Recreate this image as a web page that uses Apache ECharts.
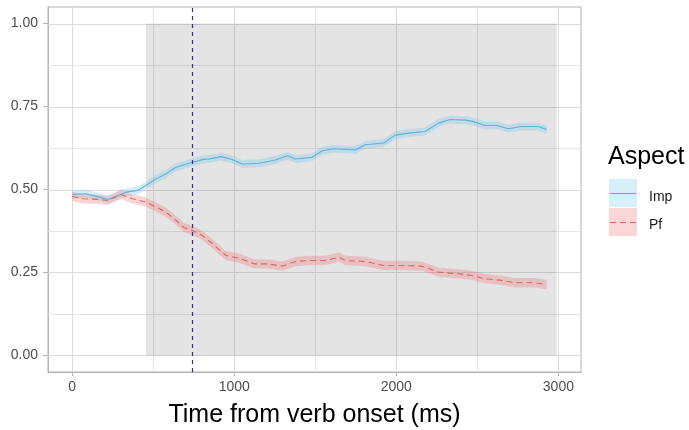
<!DOCTYPE html>
<html>
<head>
<meta charset="utf-8">
<script src="https://cdn.jsdelivr.net/npm/echarts@6/dist/echarts.min.js"></script>
<style>
html,body{margin:0;padding:0;background:#fff;}
#chart{width:689px;height:430px;}
</style>
</head>
<body>
<div id="chart"></div>
<script>
// ---- data ----
var impTime = [0, 86, 168, 220, 271, 332, 404, 455, 517, 578, 640, 722, 804, 845, 917, 978, 1050, 1153, 1255, 1327, 1378, 1481, 1543, 1604, 1645, 1748, 1809, 1922, 1994, 2076, 2178, 2260, 2332, 2425, 2466, 2548, 2620, 2691, 2773, 2876, 2927];
var impValue = [0.485, 0.487, 0.477, 0.470, 0.479, 0.492, 0.497, 0.512, 0.532, 0.547, 0.567, 0.579, 0.590, 0.592, 0.599, 0.592, 0.577, 0.579, 0.589, 0.602, 0.592, 0.597, 0.617, 0.622, 0.622, 0.619, 0.635, 0.640, 0.664, 0.670, 0.675, 0.700, 0.711, 0.709, 0.706, 0.693, 0.693, 0.683, 0.690, 0.690, 0.681];
var pfTime = [0, 66, 168, 220, 302, 373, 455, 517, 578, 640, 691, 742, 804, 855, 948, 1030, 1122, 1204, 1297, 1378, 1460, 1563, 1645, 1686, 1809, 1922, 2035, 2158, 2260, 2383, 2466, 2548, 2650, 2732, 2855, 2927];
var pfValue = [0.479, 0.472, 0.470, 0.467, 0.485, 0.472, 0.462, 0.447, 0.432, 0.407, 0.385, 0.377, 0.361, 0.341, 0.301, 0.293, 0.276, 0.276, 0.269, 0.283, 0.286, 0.286, 0.296, 0.286, 0.283, 0.271, 0.271, 0.269, 0.251, 0.246, 0.241, 0.231, 0.226, 0.219, 0.219, 0.213];
var impHalfBand = 0.012;
var pfHalfBand = 0.014;
var windowStart = 455, windowEnd = 2990;   // shaded analysis window (ms)
var windowLow = 0, windowHigh = 1;
var verbMarker = 738;                       // dashed vertical line (ms)
var xTicks = [0, 1000, 2000, 3000];
var xMinor = [500, 1500, 2500];
var yTicks = [0, 0.25, 0.5, 0.75, 1];
var yMinor = [0.125, 0.375, 0.625, 0.875];
var seriesNames = ['Imp', 'Pf'];
var legendTitle = 'Aspect';
var xTitle = 'Time from verb onset (ms)';

// ---- styles ----
var FONT = "'Liberation Sans', Arial, sans-serif";
var impLine = '#5fb2da', impFill = 'rgba(120,200,235,0.32)', impKey = '#d6eff9';
var pfLine = '#df6464', pfFill = 'rgba(240,120,120,0.32)', pfKey = '#fbd6d6';

function zip(ts, vs){ var out=[]; for (var i=0;i<ts.length;i++) out.push([ts[i], vs[i]]); return out; }

function ribbon(ts, vs, half, fill){
  return {
    type:'custom', coordinateSystem:'cartesian2d', z:3, silent:true, clip:true,
    data:[[ts[0], vs[0]]],
    renderItem:function(params, api){
      var pts=[], i;
      for (i=0;i<ts.length;i++) pts.push(api.coord([ts[i], vs[i]+half]));
      for (i=ts.length-1;i>=0;i--) pts.push(api.coord([ts[i], vs[i]-half]));
      return {type:'polygon', shape:{points:pts}, style:{fill:fill}};
    }
  };
}

var chart = echarts.init(document.getElementById('chart'), null, {renderer:'canvas'});
var option = {
  animation:false,
  backgroundColor:'#ffffff',
  grid:{left:48, top:7, width:533, height:365, show:true, borderColor:'#b3b3b3', borderWidth:1,
        backgroundColor:'transparent', containLabel:false, outerBoundsMode:'none'},
  xAxis:{
    type:'value', min:-149.5, max:3139.5,
    axisLine:{show:true, onZero:false, lineStyle:{color:'#b3b3b3'}}, splitLine:{show:false},
    axisTick:{show:true, length:4, customValues:xTicks, lineStyle:{color:'#b3b3b3'}},
    axisLabel:{customValues:xTicks, color:'#4d4d4d', fontSize:14, fontFamily:FONT, margin:8,
      formatter:function(v){ return String(v); }},
    name:xTitle, nameLocation:'middle', nameGap:31,
    nameTextStyle:{color:'#000', fontSize:25, fontFamily:FONT}
  },
  yAxis:{
    type:'value', min:-0.05, max:1.05,
    axisLine:{show:true, onZero:false, lineStyle:{color:'#b3b3b3'}}, splitLine:{show:false},
    axisTick:{show:true, length:5, customValues:yTicks, lineStyle:{color:'#b3b3b3'}},
    axisLabel:{customValues:yTicks, color:'#4d4d4d', fontSize:14, fontFamily:FONT, margin:10,
      formatter:function(v){ return v.toFixed(2); }}
  },
  series:[
    { // gridlines + shaded window
      type:'custom', coordinateSystem:'cartesian2d', z:1, silent:true, clip:true,
      data:[[0,0]],
      renderItem:function(params, api){
        var cs = params.coordSys, kids=[];
        function vline(x, c){ var p=api.coord([x,0]); kids.push({type:'line', shape:{x1:Math.round(p[0])+0.5, y1:cs.y, x2:Math.round(p[0])+0.5, y2:cs.y+cs.height}, style:{stroke:c, lineWidth:1}}); }
        function hline(y, c){ var p=api.coord([0,y]); kids.push({type:'line', shape:{x1:cs.x, y1:Math.round(p[1])+0.5, x2:cs.x+cs.width, y2:Math.round(p[1])+0.5}, style:{stroke:c, lineWidth:1}}); }
        xMinor.forEach(function(x){ vline(x,'#e6e6e6'); });
        yMinor.forEach(function(y){ hline(y,'#e6e6e6'); });
        xTicks.forEach(function(x){ vline(x,'#dcdcdc'); });
        yTicks.forEach(function(y){ hline(y,'#dcdcdc'); });
        var a = api.coord([windowStart, windowHigh]), b = api.coord([windowEnd, windowLow]);
        kids.push({type:'rect', shape:{x:a[0], y:a[1], width:b[0]-a[0], height:b[1]-a[1]}, style:{fill:'rgba(0,0,0,0.105)'}});
        return {type:'group', children:kids};
      }
    },
    ribbon(impTime, impValue, impHalfBand, impFill),
    ribbon(pfTime, pfValue, pfHalfBand, pfFill),
    { name:seriesNames[0], type:'line', z:4, data:zip(impTime, impValue), showSymbol:false, symbol:'none',
      lineStyle:{color:impLine, width:1.1}, silent:true },
    { name:seriesNames[1], type:'line', z:4, data:zip(pfTime, pfValue), showSymbol:false, symbol:'none',
      lineStyle:{color:pfLine, width:1.1, type:[6,4]}, silent:true },
    { // verb onset marker line
      type:'custom', coordinateSystem:'cartesian2d', z:5, silent:true,
      data:[[verbMarker, 0]],
      renderItem:function(params, api){
        var cs = params.coordSys, p = api.coord([verbMarker, 0]);
        var x = Math.round(p[0]) + 0.5;
        return {type:'line', shape:{x1:x, y1:cs.y+1, x2:x, y2:cs.y+cs.height}, style:{stroke:'#30308a', lineWidth:1.2, lineDash:[4,4]}};
      }
    }
  ],
  graphic:[
    {type:'text', x:608, y:157, style:{text:legendTitle, font:'25px '+FONT, fill:'#000', verticalAlign:'middle'}},
    {type:'rect', shape:{x:609, y:179, width:28, height:28}, style:{fill:impKey}},
    {type:'line', shape:{x1:610, y1:193.5, x2:636, y2:193.5}, style:{stroke:impLine, lineWidth:1.1}},
    {type:'text', x:649, y:197, style:{text:seriesNames[0], font:'14px '+FONT, fill:'#1a1a1a', verticalAlign:'middle'}},
    {type:'rect', shape:{x:609, y:208, width:28, height:28}, style:{fill:pfKey}},
    {type:'line', shape:{x1:610, y1:222.5, x2:636, y2:222.5}, style:{stroke:pfLine, lineWidth:1.1, lineDash:[6,4]}},
    {type:'text', x:649, y:225, style:{text:seriesNames[1], font:'14px '+FONT, fill:'#1a1a1a', verticalAlign:'middle'}}
  ]
};
chart.setOption(option);
</script>
</body>
</html>
